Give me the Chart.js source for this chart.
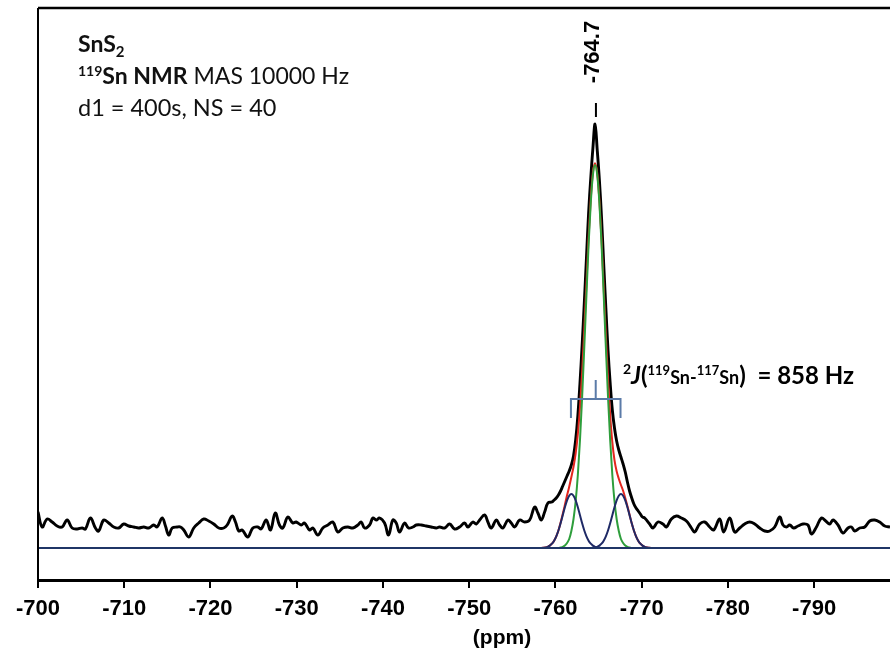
<!DOCTYPE html>
<html>
<head>
<meta charset="utf-8">
<script src="https://cdn.jsdelivr.net/npm/chart.js@4.4.0/dist/chart.umd.min.js"></script>
<style>
    html, body { margin: 0; padding: 0; background: #fff; }
    #wrap { width: 890px; height: 650px; position: relative; }
</style>
</head>
<body>
<div id="wrap"><canvas id="nmrChart"></canvas></div>
<script>
// 119Sn MAS NMR of SnS2 - spectrum + fitted components

const xTickValues = [-700, -710, -720, -730, -740, -750, -760, -770, -780, -790];

// measured spectrum (black)
const spectrumPpm = [
    -700.0, -700.48, -701.06, -701.64, -702.22, -702.8, -703.38, -703.96, -704.54, -705.12,
    -705.5, -706.08, -706.66, -707.04, -707.62, -708.2, -708.78, -709.36, -709.94, -710.52,
    -711.1, -711.68, -712.26, -712.84, -713.42, -713.82, -714.4, -714.78, -715.16, -715.56,
    -716.14, -716.52, -716.9, -717.48, -718.06, -718.64, -719.22, -719.8, -720.38, -720.96,
    -721.54, -721.94, -722.52, -722.9, -723.28, -723.68, -724.33, -724.91, -725.49, -725.88,
    -726.46, -726.96, -727.51, -728.0, -728.39, -728.97, -729.55, -729.94, -730.52, -730.9,
    -731.48, -731.87, -732.45, -733.03, -733.61, -734.19, -734.77, -735.35, -735.93, -736.51,
    -737.09, -737.48, -737.87, -738.45, -738.83, -739.22, -739.61, -740.19, -740.65, -741.15,
    -741.54, -741.93, -742.51, -742.97, -743.47, -743.86, -744.44, -745.02, -745.6, -746.18,
    -746.57, -747.15, -747.73, -748.31, -748.89, -749.47, -749.85, -750.43, -750.82, -751.21,
    -751.79, -752.17, -752.56, -753.14, -753.53, -753.91, -754.49, -754.88, -755.27, -755.85,
    -756.43, -757.01, -757.59, -757.97, -758.36, -758.75, -759.13,
    -759.6, -759.85, -760.1, -760.35, -760.6, -760.85, -761.1, -761.35, -761.6, -761.85,
    -762.1, -762.35, -762.6, -762.85, -763.1, -763.35, -763.6, -763.85, -764.1, -764.35,
    -764.6, -764.85, -765.1, -765.35, -765.6, -765.85, -766.1, -766.35, -766.6, -766.85,
    -767.1, -767.35, -767.6, -767.85, -768.1, -768.35, -768.6, -768.85, -769.1, -769.35,
    -769.6, -769.85, -770.1,
    -770.35, -770.93, -771.31, -771.89, -772.47, -772.87, -773.45, -774.03, -774.61, -775.19,
    -775.77, -776.15, -776.73, -777.31, -777.89, -778.35, -779.05, -779.51, -780.21, -780.79,
    -781.37, -781.95, -782.53, -783.11, -783.69, -784.27, -784.85, -785.43, -786.01, -786.39,
    -786.79, -787.17, -787.63, -788.13, -788.71, -789.29, -789.69, -790.27, -790.85, -791.35,
    -791.81, -792.19, -792.77, -793.35, -793.93, -794.33, -794.71, -795.29, -795.87, -796.45,
    -797.03, -797.61, -798.19, -798.8
];
const spectrumIntensity = [
    36, 21, 29, 26, 22, 21, 28, 20, 19, 20,
    19, 30, 20, 17, 28, 25, 21, 20, 24, 22,
    21, 20, 21, 20, 23, 21, 30, 22, 13, 20,
    21, 21, 18, 11, 20, 25, 29, 27, 24, 20,
    20, 23, 32, 26, 17, 18, 11, 20, 21, 19,
    28, 18, 35, 23, 20, 31, 25, 26, 23, 25,
    18, 20, 13, 20, 23, 26, 16, 20, 21, 20,
    23, 26, 20, 23, 30, 28, 30, 25, 13, 28,
    25, 16, 25, 20, 21, 23, 23, 22, 21, 20,
    21, 20, 24, 19, 21, 25, 21, 26, 24, 28,
    33, 26, 20, 28, 23, 20, 28, 25, 21, 28,
    26, 28, 41, 35, 28, 36, 45,
    46, 48, 50, 53, 57, 62, 67, 72, 77, 83,
    92, 108, 132, 165, 203, 245, 290, 335, 370, 400,
    424, 398, 368, 330, 284, 240, 198, 165, 138, 120,
    107, 98, 91, 84, 76, 66, 57, 50, 44, 40,
    37, 34, 31,
    30, 24, 20, 26, 24, 21, 29, 32, 30, 27,
    20, 16, 24, 26, 21, 18, 29, 16, 30, 16,
    20, 24, 26, 24, 20, 17, 17, 21, 31, 23,
    21, 23, 20, 22, 24, 23, 14, 21, 30, 27,
    24, 28, 23, 15, 20, 21, 17, 20, 21, 27,
    28, 26, 22, 21
];

// fitted components, common ppm grid
const fitPpm = [
    -757.6, -757.85, -758.1, -758.35, -758.6, -758.85, -759.1, -759.35, -759.6, -759.85,
    -760.1, -760.35, -760.6, -760.85, -761.1, -761.35, -761.6, -761.85, -762.1, -762.35,
    -762.6, -762.85, -763.1, -763.35, -763.6, -763.85, -764.1, -764.35, -764.6, -764.85,
    -765.1, -765.35, -765.6, -765.85, -766.1, -766.35, -766.6, -766.85, -767.1, -767.35,
    -767.6, -767.85, -768.1, -768.35, -768.6, -768.85, -769.1, -769.35, -769.6, -769.85,
    -770.1, -770.35, -770.6, -770.85, -771.1, -771.35, -771.6, -771.85, -772.1
];
const fitCentral = [
    0, 0, 0, 0, 0, 0, 0, 0, 0, 0,
    0, 0, 0.5, 1.1, 2.4, 5, 9, 17, 29, 47,
    73, 108, 151, 201, 253, 304, 345, 373, 383, 373,
    345, 304, 253, 201, 151, 108, 73, 47, 29, 17,
    9, 5, 2.4, 1.1, 0.5, 0, 0, 0, 0, 0,
    0, 0, 0, 0, 0, 0, 0, 0, 0
];
const fitSatelliteLow = [
    0, 0, 0, 0.1, 0.3, 0.6, 1.2, 2.4, 4.3, 7.3,
    11.7, 17.5, 24.7, 32.8, 40.8, 47.7, 52.3, 54, 52.3, 47.7,
    40.8, 32.8, 24.7, 17.5, 11.7, 7.3, 4.3, 2.4, 1.2, 0.6,
    0.3, 0.1, 0, 0, 0, 0, 0, 0, 0, 0,
    0, 0, 0, 0, 0, 0, 0, 0, 0, 0,
    0, 0, 0, 0, 0, 0, 0, 0, 0
];
const fitSatelliteHigh = [
    0, 0, 0, 0, 0, 0, 0, 0, 0, 0,
    0, 0, 0, 0, 0, 0, 0, 0, 0, 0,
    0, 0, 0, 0, 0, 0, 0.1, 0.3, 0.6, 1.2,
    2.4, 4.3, 7.3, 11.7, 17.5, 24.7, 32.8, 40.8, 47.7, 52.3,
    54, 52.3, 47.7, 40.8, 32.8, 24.7, 17.5, 11.7, 7.3, 4.3,
    2.4, 1.2, 0.6, 0.3, 0.1, 0, 0, 0, 0
];
const fitSum = [
    0, 0, 0, 0.1, 0.3, 0.6, 1.2, 2.4, 4.3, 7.3,
    11.7, 17.5, 25.2, 33.9, 43.2, 52.7, 61.3, 71, 81.3, 94.7,
    113.8, 140.8, 175.7, 218.5, 264.7, 311.3, 349.4, 375.7, 384.8, 374.8,
    347.7, 308.4, 260.3, 212.7, 168.5, 132.7, 105.8, 87.8, 76.7, 69.3,
    63, 57.3, 50.1, 41.9, 33.3, 24.7, 17.5, 11.7, 7.3, 4.3,
    2.4, 1.2, 0.6, 0.3, 0.1, 0, 0, 0, 0
];
const baselinePpm = [-700, -798.8];
const baselineValue = [0, 0];

const peakLabel = -764.7;
const satellitePpm = [-761.8, -767.55];

const toPoints = (xs, ys) => xs.map((x, i) => ({ x: x, y: ys[i] }));

const TEXT_FONT = "Lato, 'Open Sans', sans-serif";
const AXIS_FONT = "'Liberation Sans', Arial, sans-serif";

function drawRuns(ctx, x, y, runs) {
    runs.forEach(r => {
        ctx.font = (r.italic ? 'italic ' : '') + (r.bold ? 'bold ' : '') + r.size + 'px ' + TEXT_FONT;
        ctx.fillText(r.text, x, y + (r.shift || 0));
        x += ctx.measureText(r.text).width;
    });
}

const annotations = {
    id: 'annotations',
    afterDatasetsDraw(chart) {
        const ctx = chart.ctx;
        const area = chart.chartArea;
        const xs = chart.scales.x;
        const ys = chart.scales.y;
        ctx.save();

        // frame: top + left
        ctx.strokeStyle = '#000';
        ctx.lineWidth = 2.5;
        ctx.beginPath();
        ctx.moveTo(area.left, area.top);
        ctx.lineTo(area.right, area.top);
        ctx.stroke();
        ctx.lineWidth = 2;
        ctx.beginPath();
        ctx.moveTo(area.left, area.top);
        ctx.lineTo(area.left, area.bottom);
        ctx.stroke();

        // sample info
        ctx.fillStyle = '#111';
        ctx.textBaseline = 'alphabetic';
        ctx.textAlign = 'left';
        drawRuns(ctx, 78, 52, [
            { text: 'SnS', bold: true, size: 23 },
            { text: '2', bold: true, size: 15, shift: 5 }
        ]);
        drawRuns(ctx, 78, 84, [
            { text: '119', bold: true, size: 14, shift: -8 },
            { text: 'Sn NMR', bold: true, size: 23 },
            { text: ' MAS 10000 Hz', size: 23 }
        ]);
        drawRuns(ctx, 78, 116, [
            { text: 'd1 = 400s, NS = 40', size: 23.5 }
        ]);

        // peak position label
        const px = xs.getPixelForValue(peakLabel);
        ctx.fillStyle = '#000';
        ctx.save();
        ctx.translate(px - 3, 52);
        ctx.rotate(-Math.PI / 2);
        ctx.textAlign = 'center';
        ctx.textBaseline = 'middle';
        ctx.font = 'bold 22px ' + AXIS_FONT;
        ctx.fillText(String(peakLabel), 0, 0);
        ctx.restore();
        ctx.lineWidth = 2;
        ctx.beginPath();
        ctx.moveTo(px, 103);
        ctx.lineTo(px, 117);
        ctx.stroke();

        // J-coupling bracket
        const x1 = xs.getPixelForValue(satellitePpm[0]);
        const x2 = xs.getPixelForValue(satellitePpm[1]);
        const xm = (x1 + x2) / 2;
        const yb = ys.getPixelForValue(149);
        ctx.strokeStyle = '#5B7BA8';
        ctx.lineWidth = 2;
        ctx.beginPath();
        ctx.moveTo(x1, yb + 19);
        ctx.lineTo(x1, yb);
        ctx.lineTo(x2, yb);
        ctx.lineTo(x2, yb + 19);
        ctx.moveTo(xm, yb);
        ctx.lineTo(xm, yb - 19);
        ctx.stroke();

        ctx.fillStyle = '#000';
        drawRuns(ctx, 623, 384, [
            { text: '2', bold: true, size: 14, shift: -10 },
            { text: 'J', bold: true, italic: true, size: 24 },
            { text: '(', bold: true, size: 24 },
            { text: '119', bold: true, size: 13, shift: -9 },
            { text: 'Sn-', bold: true, size: 18 },
            { text: '117', bold: true, size: 13, shift: -9 },
            { text: 'Sn', bold: true, size: 18 },
            { text: ')', bold: true, size: 24 },
            { text: '  = 858 Hz', bold: true, size: 24 }
        ]);

        // axis title
        ctx.font = 'bold 21px ' + AXIS_FONT;
        ctx.textAlign = 'center';
        ctx.textBaseline = 'middle';
        ctx.fillText('(ppm)', 502, 638);

        ctx.restore();
    }
};

const ctx = document.getElementById('nmrChart');
new Chart(ctx, {
    type: 'line',
    data: {
        datasets: [
            {
                label: 'Baseline',
                data: toPoints(baselinePpm, baselineValue),
                borderColor: '#1F3566',
                borderWidth: 2
            },
            {
                label: 'Satellite 1',
                data: toPoints(fitPpm, fitSatelliteLow),
                borderColor: '#1F2A66',
                borderWidth: 2
            },
            {
                label: 'Satellite 2',
                data: toPoints(fitPpm, fitSatelliteHigh),
                borderColor: '#1F2A66',
                borderWidth: 2
            },
            {
                label: 'Central',
                data: toPoints(fitPpm, fitCentral),
                borderColor: '#2E9E3C',
                borderWidth: 2
            },
            {
                label: 'Sum',
                data: toPoints(fitPpm, fitSum),
                borderColor: '#E3261E',
                borderWidth: 2
            },
            {
                label: 'Spectrum',
                data: toPoints(spectrumPpm, spectrumIntensity),
                borderColor: '#000',
                borderWidth: 2.9,
                cubicInterpolationMode: 'default',
                tension: 0.4
            }
        ]
    },
    options: {
        responsive: true,
        maintainAspectRatio: false,
        animation: false,
        devicePixelRatio: 1,
        elements: {
            point: { radius: 0 },
            line: { fill: false, cubicInterpolationMode: 'monotone' }
        },
        layout: {
            padding: { left: 38, right: 0, top: 8, bottom: 19.6 }
        },
        plugins: {
            legend: { display: false },
            tooltip: { enabled: false }
        },
        scales: {
            x: {
                type: 'linear',
                reverse: true,
                min: -798.8,
                max: -700,
                afterBuildTicks: (scale) => {
                    scale.ticks = xTickValues.map(v => ({ value: v }));
                },
                ticks: {
                    color: '#000',
                    font: { family: AXIS_FONT, size: 22, weight: 'bold' },
                    padding: 8,
                    maxRotation: 0,
                    autoSkip: false,
                    callback: (v) => String(v)
                },
                grid: {
                    display: true,
                    drawOnChartArea: false,
                    drawTicks: true,
                    tickLength: 8,
                    color: '#000',
                    lineWidth: 2
                },
                border: { display: true, color: '#000', width: 3 }
            },
            y: {
                display: false,
                min: -32,
                max: 540
            }
        }
    },
    plugins: [annotations]
});
</script>
</body>
</html>
